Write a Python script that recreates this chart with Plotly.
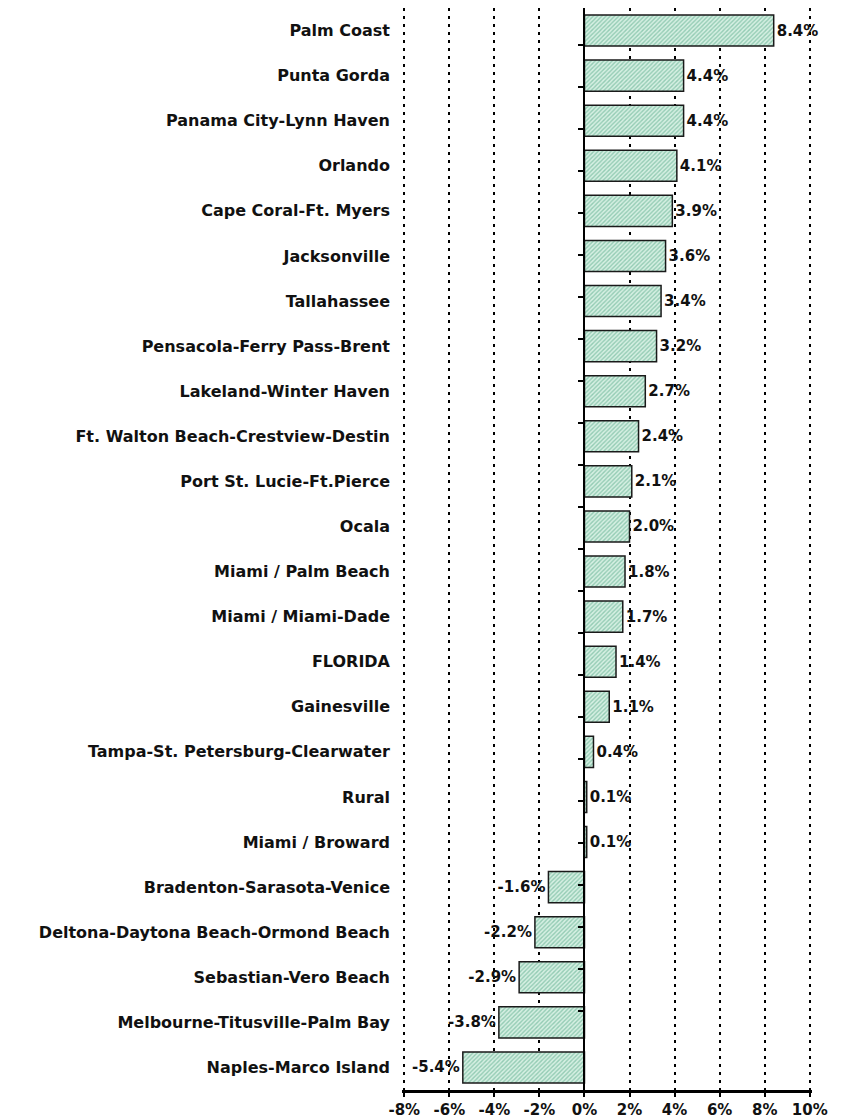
import plotly.graph_objects as go

categories = [
    "Palm Coast", "Punta Gorda", "Panama City-Lynn Haven", "Orlando",
    "Cape Coral-Ft. Myers", "Jacksonville", "Tallahassee",
    "Pensacola-Ferry Pass-Brent", "Lakeland-Winter Haven",
    "Ft. Walton Beach-Crestview-Destin", "Port St. Lucie-Ft.Pierce", "Ocala",
    "Miami / Palm Beach", "Miami / Miami-Dade", "FLORIDA", "Gainesville",
    "Tampa-St. Petersburg-Clearwater", "Rural", "Miami / Broward",
    "Bradenton-Sarasota-Venice", "Deltona-Daytona Beach-Ormond Beach",
    "Sebastian-Vero Beach", "Melbourne-Titusville-Palm Bay",
    "Naples-Marco Island",
]
values = [8.4, 4.4, 4.4, 4.1, 3.9, 3.6, 3.4, 3.2, 2.7, 2.4, 2.1, 2.0, 1.8,
          1.7, 1.4, 1.1, 0.4, 0.1, 0.1, -1.6, -2.2, -2.9, -3.8, -5.4]
x_tick_vals = [-8, -6, -4, -2, 0, 2, 4, 6, 8, 10]
x_tick_text = ["-8%", "-6%", "-4%", "-2%", "0%", "2%", "4%", "6%", "8%", "10%"]

FONT = "DejaVu Sans"
X_RANGE = [-8.1, 10.1]

fig = go.Figure()
fig.add_trace(go.Bar(
    x=values, y=categories, orientation="h",
    marker=dict(
        color="#d6f0e3",
        line=dict(color="#1a1a1a", width=1.5),
        pattern=dict(shape="/", fgcolor="#4fa583", bgcolor="#d6f0e3",
                     size=3, solidity=0.45),
    ),
    text=[f"{v:.1f}%" for v in values],
    textposition="outside",
    textfont=dict(family=FONT, size=15, color="#111111", weight="bold"),
    constraintext="none",
    cliponaxis=False,
    hoverinfo="skip",
))
# invisible trace for the category axis drawn at x = 0
fig.add_trace(go.Scatter(
    x=[0] * len(categories), y=categories, yaxis="y2",
    mode="markers", marker=dict(opacity=0), showlegend=False,
    hoverinfo="skip",
))

fig.update_layout(
    width=834, height=1112,
    margin=dict(l=394, r=30, t=0, b=30),
    paper_bgcolor="white", plot_bgcolor="white",
    showlegend=False,
    bargap=0.31,
    xaxis=dict(
        range=X_RANGE, tickvals=x_tick_vals, ticktext=x_tick_text,
        showgrid=True, gridcolor="black", gridwidth=2, griddash="3px,5px",
        zeroline=True, zerolinecolor="black", zerolinewidth=2,
        showline=True, linecolor="black", linewidth=3,
        ticks="outside", ticklen=4, tickwidth=2, tickcolor="black",
        tickfont=dict(family=FONT, size=15, color="#111111", weight="bold"),
        fixedrange=True,
    ),
    yaxis=dict(
        type="category", autorange="reversed",
        showgrid=False, zeroline=False, showline=False, ticks="",
        ticklabelstandoff=11,
        tickfont=dict(family=FONT, size=16, color="#111111", weight="bold"),
    ),
    yaxis2=dict(
        type="category", autorange="reversed", overlaying="y",
        anchor="free", position=(0 - X_RANGE[0]) / (X_RANGE[1] - X_RANGE[0]),
        side="left",
        showline=True, linecolor="black", linewidth=2,
        ticks="outside", ticklen=5, tickwidth=1.5, tickcolor="black",
        tickson="boundaries", showticklabels=False,
        showgrid=False, zeroline=False,
    ),
)

fig.write_html("out.html")
